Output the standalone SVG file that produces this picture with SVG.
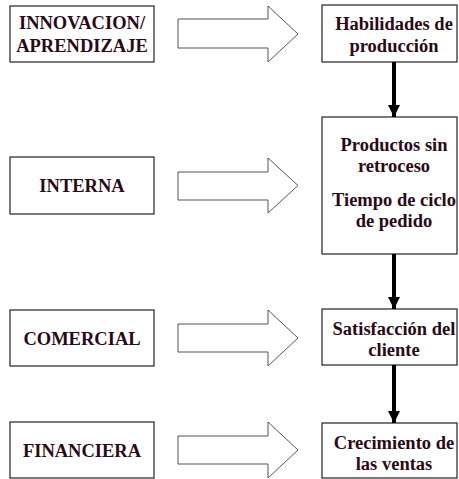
<svg xmlns="http://www.w3.org/2000/svg" width="459" height="479" viewBox="0 0 459 479">
<style>
.box{fill:#fff;stroke:#222;stroke-width:1.2}
.blk{fill:#fff;stroke:#555;stroke-width:1}
.v{stroke:#000;stroke-width:4}
</style>
<defs>
<marker id="ah" markerWidth="12" markerHeight="12" refX="12" refY="6" orient="auto" markerUnits="userSpaceOnUse">
<path d="M0,0 L12,6 L0,12 Z" fill="#000"/>
</marker>
</defs>
<rect width="459" height="479" fill="#fff"/>
<g font-family="Liberation Serif, Times New Roman, serif" font-weight="bold" font-size="18.5" fill="#2a0a18" text-anchor="middle">
<g id="innovacion"><rect class="box" x="10" y="6" width="144" height="56"/><text x="82" y="29">INNOVACION/</text><text x="82" y="52">APRENDIZAJE</text></g>
<g id="interna"><rect class="box" x="10" y="157" width="144" height="57"/><text x="82" y="192">INTERNA</text></g>
<g id="comercial"><rect class="box" x="10" y="310" width="144" height="56"/><text x="82" y="345">COMERCIAL</text></g>
<g id="financiera"><rect class="box" x="10" y="422" width="144" height="56"/><text x="82" y="457">FINANCIERA</text></g>
<g id="habilidades"><rect class="box" x="322" y="5" width="135" height="57"/><text x="394" y="30">Habilidades de</text><text x="394" y="52">producción</text></g>
<g id="productos"><rect class="box" x="322" y="117" width="135" height="137"/><text x="394" y="151">Productos sin</text><text x="394" y="172">retroceso</text><text x="394" y="206">Tiempo de ciclo</text><text x="394" y="227">de pedido</text></g>
<g id="satisfaccion"><rect class="box" x="322" y="309" width="135" height="56"/><text x="394" y="335">Satisfacción del</text><text x="394" y="356">cliente</text></g>
<g id="crecimiento"><rect class="box" x="322" y="423" width="135" height="55"/><text x="394" y="449">Crecimiento de</text><text x="394" y="470">las ventas</text></g>
</g>
<g id="connectors">
<path class="blk" d="M178,19 H268 V6 L298,34 L268,62 V48 H178 Z"/>
<path class="blk" d="M178,172 H268 V158 L298,185.5 L268,213 V200 H178 Z"/>
<path class="blk" d="M178,324 H268 V310 L298,338 L268,366 V352 H178 Z"/>
<path class="blk" d="M178,436 H268 V422 L298,450 L268,478 V464 H178 Z"/>
<line class="v" x1="394" y1="62" x2="394" y2="117" marker-end="url(#ah)"/>
<line class="v" x1="394" y1="254" x2="394" y2="309" marker-end="url(#ah)"/>
<line class="v" x1="394" y1="365" x2="394" y2="423" marker-end="url(#ah)"/>
</g>
</svg>
